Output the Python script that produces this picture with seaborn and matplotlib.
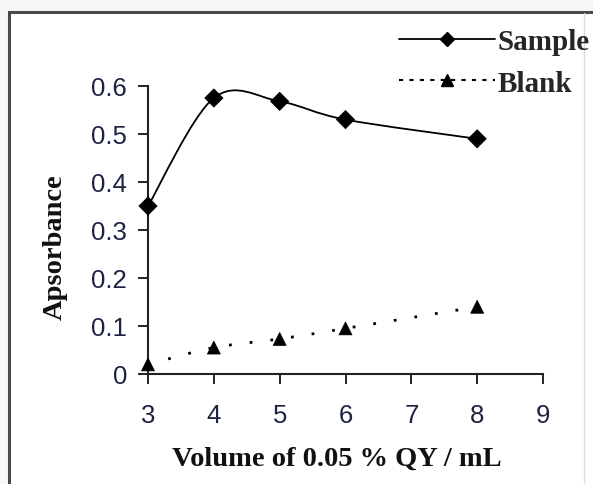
import numpy as np
import pandas as pd
import matplotlib
matplotlib.use("Agg")
import matplotlib.pyplot as plt
import seaborn as sns
from matplotlib.path import Path
from matplotlib.patches import PathPatch, Rectangle
from matplotlib.lines import Line2D

# data
volume = [3, 4, 5, 6, 8]
sample = [0.35, 0.575, 0.568, 0.53, 0.49]
blank = [0.02, 0.055, 0.073, 0.095, 0.14]
x_ticks = [3, 4, 5, 6, 7, 8, 9]
y_ticks = [0, 0.1, 0.2, 0.3, 0.4, 0.5, 0.6]
y_labels = ["0", "0.1", "0.2", "0.3", "0.4", "0.5", "0.6"]

df = pd.DataFrame({
    "Volume": volume + volume,
    "Absorbance": sample + blank,
    "Series": ["Sample"] * len(volume) + ["Blank"] * len(volume),
})


def smooth_path(x, y):
    # excel-like smoothed line: bezier control points from neighbours
    pts = np.column_stack([x, y]).astype(float)
    ext = np.vstack([pts[0], pts, pts[-1]])
    verts = [pts[0]]
    codes = [Path.MOVETO]
    for i in range(len(pts) - 1):
        p0, p1, p2, p3 = ext[i], ext[i + 1], ext[i + 2], ext[i + 3]
        verts += [p1 + (p2 - p0) / 6, p2 - (p3 - p1) / 6, p2]
        codes += [Path.CURVE4] * 3
    return Path(verts, codes)


sns.set_style("ticks")
plt.rcParams["font.family"] = ["Liberation Sans", "DejaVu Sans"]

fig = plt.figure(figsize=(5.93, 4.85), dpi=100, facecolor="#f6f7f9")

# outer frame like the original picture
top = 1 - 13 / 485
frame = Rectangle((9 / 593, -0.2), 1.2, top + 0.2, transform=fig.transFigure,
                  facecolor="white", edgecolor="#4a4a4a", lw=2.2, zorder=-5)
fig.patches.append(frame)
fig.add_artist(Line2D([584 / 593, 584 / 593], [0, top - 0.003], transform=fig.transFigure,
                      color="#dcdde0", lw=1.0))

ax = fig.add_axes([148 / 593, 1 - 375 / 485, 395 / 593, 288 / 485])
ax.set_facecolor("none")

# smoothed lines
ax.add_patch(PathPatch(smooth_path(volume, sample), facecolor="none", edgecolor="black",
                       lw=1.3, clip_on=False, zorder=2))
ax.add_patch(PathPatch(smooth_path(volume, blank), facecolor="none", edgecolor="black",
                       lw=2.0, linestyle=(0, (1, 6.5)), clip_on=False, zorder=2))

sns.scatterplot(data=df, x="Volume", y="Absorbance", hue="Series", style="Series",
                markers={"Sample": "D", "Blank": "^"},
                palette={"Sample": "black", "Blank": "black"},
                s=85, edgecolor="black", linewidth=0.6, legend=False,
                clip_on=False, zorder=3, ax=ax)

ax.set_xlim(3, 9)
ax.set_ylim(0, 0.6)
ax.set_xticks(x_ticks)
ax.set_yticks(y_ticks)
ax.set_yticklabels(y_labels)
ax.set_xlabel("")
ax.set_ylabel("")
sns.despine(ax=ax)
for side in ["left", "bottom"]:
    ax.spines[side].set_linewidth(1.5)
    ax.spines[side].set_color("#222222")
ax.tick_params(axis="both", direction="out", length=7, width=1.4, color="#222222",
               labelsize=18.5, labelcolor="#1d2340")
ax.tick_params(axis="y", pad=8)
ax.tick_params(axis="x", pad=14)

fig.text(55 / 593, 1 - 247 / 485, "Apsorbance", rotation=90, ha="center", va="center",
         family="Liberation Serif", weight="bold", fontsize=20.5, color="#111111")
fig.text(337 / 593, 1 - 459 / 485, "Volume of 0.05 % QY / mL", ha="center", va="center",
         family="Liberation Serif", weight="bold", fontsize=20.5, color="#111111")

handles = [
    Line2D([], [], color="black", lw=1.3, marker="D", markersize=7),
    Line2D([], [], color="black", lw=1.5, linestyle=(0, (2, 3)), marker="^", markersize=9),
]
fig.legend(handles, ["Sample", "Blank"], loc="upper right",
           bbox_to_anchor=(590 / 593, 1 - 29 / 485), frameon=False,
           prop={"family": "Liberation Serif", "weight": "bold", "size": 21},
           handlelength=3.3, handletextpad=0.1, labelspacing=0.5,
           borderpad=0, borderaxespad=0)

fig.savefig("out.png", dpi=100, facecolor=fig.get_facecolor())
